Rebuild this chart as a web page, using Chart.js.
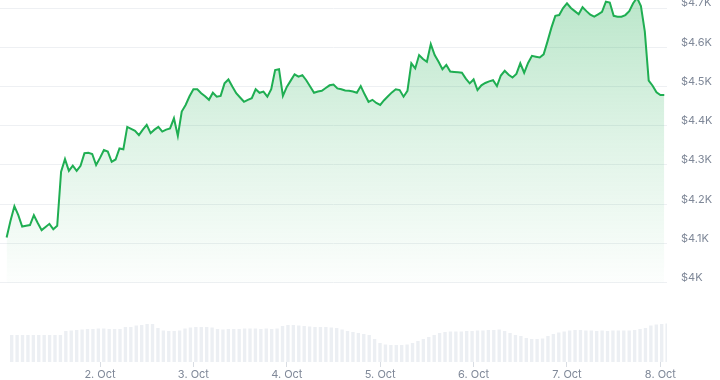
<!doctype html>
<html lang="en">
<head>
  <meta charset="utf-8">
  <title>Price chart</title>
  <script src="https://cdn.jsdelivr.net/npm/chart.js@4.4.1/dist/chart.umd.min.js"></script>
  <style>
    body { margin: 0; background: #fff; }
    #wrap { width: 720px; height: 380px; position: relative; }
  </style>
</head>
<body>
  <div id="wrap"><canvas id="myChart"></canvas></div>
  <script>
    // hourly price, starting 1. Oct 00:00
    const prices = [
      4115, 4158, 4195, 4172, 4143, 4145, 4147, 4172, 4152, 4134,
      4142, 4150, 4136, 4145, 4283, 4315, 4285, 4298, 4285, 4298,
      4330, 4331, 4328, 4300, 4318, 4338, 4334, 4308, 4314, 4342,
      4340, 4397, 4392, 4387, 4376, 4390, 4402, 4381, 4390, 4397,
      4385, 4390, 4393, 4419, 4374, 4436, 4453, 4475, 4493, 4493,
      4483, 4475, 4466, 4484, 4474, 4476, 4508, 4518, 4500, 4483,
      4472, 4461, 4466, 4470, 4493, 4484, 4487, 4474, 4493, 4542,
      4544, 4476, 4499, 4515, 4531, 4525, 4529, 4516, 4500, 4484,
      4487, 4489, 4496, 4503, 4505, 4495, 4493, 4490, 4489, 4487,
      4484, 4501, 4480, 4461, 4466, 4458, 4453, 4465, 4475, 4485,
      4493, 4491, 4474, 4489, 4559, 4546, 4580, 4570, 4563, 4608,
      4580, 4563, 4544, 4555, 4538, 4537, 4536, 4535, 4520, 4508,
      4518, 4491, 4503, 4509, 4513, 4516, 4501, 4528, 4540, 4530,
      4523, 4532, 4559, 4535, 4560, 4578, 4576, 4574, 4582, 4615,
      4650, 4680, 4682, 4700, 4712, 4700, 4692, 4684, 4702, 4692,
      4683, 4678, 4684, 4690, 4716, 4714, 4680, 4678, 4678, 4682,
      4692, 4712, 4726, 4705, 4640, 4515, 4502, 4485, 4478, 4478
    ];

    // volume bars (grouped), $M
    const volumes = [
      270, 270, 270, 270, 270, 270, 270, 270, 270, 270,
      310, 315, 320, 325, 330, 330, 335, 335, 330, 330,
      330, 350, 350, 365, 370, 380, 380, 340, 315, 310,
      310, 315, 335, 345, 350, 350, 350, 345, 330, 325,
      330, 330, 330, 335, 335, 335, 330, 335, 330, 335,
      360, 370, 370, 365, 360, 355, 350, 350, 350, 345,
      340, 325, 310, 300, 290, 280, 270, 230, 190, 175,
      170, 170, 170, 175, 190, 210, 230, 250, 270, 290,
      300, 305, 305, 305, 310, 310, 315, 315, 320, 320,
      325, 310, 290, 270, 260, 240, 230, 230, 235, 260,
      280, 295, 305, 315, 320, 320, 315, 315, 310, 315,
      310, 315, 315, 315, 315, 320, 330, 340, 365, 375,
      380, 385
    ];
    const volStart = 1.3;   // hour of first bar
    const volStep = 1.392;  // hours between bars

    const dayLabels = ['2. Oct', '3. Oct', '4. Oct', '5. Oct', '6. Oct', '7. Oct', '8. Oct'];
    const yTicks = [4000, 4100, 4200, 4300, 4400, 4500, 4600, 4700];

    const green = '#1fae52';
    const labelColor = '#7f8898';

    Chart.defaults.font.family = 'Inter, "Open Sans", sans-serif';
    Chart.defaults.font.size = 11;
    Chart.defaults.color = labelColor;

    const ctx = document.getElementById('myChart').getContext('2d');
    const chart = new Chart(ctx, {
      data: {
        datasets: [{
          type: 'line',
          data: prices.map((p, i) => ({ x: i, y: p })),
          borderColor: green,
          borderWidth: 2,
          pointRadius: 0,
          tension: 0,
          fill: { value: 4000 },
          backgroundColor: function (c) {
            const area = c.chart.chartArea;
            if (!area) return 'rgba(31,174,82,0.2)';
            const bottom = c.chart.scales.y.getPixelForValue(4000);
            const g = c.chart.ctx.createLinearGradient(0, area.top, 0, bottom);
            g.addColorStop(0, 'rgba(31,174,82,0.30)');
            g.addColorStop(0.5, 'rgba(31,174,82,0.14)');
            g.addColorStop(1, 'rgba(31,174,82,0.01)');
            return g;
          },
          xAxisID: 'x',
          yAxisID: 'y',
          order: 1
        }, {
          type: 'bar',
          data: volumes.map((v, i) => ({ x: volStart + i * volStep, y: v })),
          backgroundColor: '#eceff3',
          barPercentage: 0.62,
          categoryPercentage: 1,
          xAxisID: 'x',
          yAxisID: 'yv',
          order: 2
        }]
      },
      options: {
        responsive: true,
        maintainAspectRatio: false,
        animation: false,
        layout: { padding: 0 },
        plugins: {
          legend: { display: false },
          tooltip: { enabled: false }
        },
        scales: {
          x: {
            type: 'linear',
            offset: false,
            min: -1.7,
            max: 169.7,
            afterBuildTicks: s => { s.ticks = dayLabels.map((l, i) => ({ value: 24 * (i + 1) })); },
            afterFit: s => { s.height = 18; s.paddingLeft = 0; s.paddingRight = 0; },
            grid: { offset: false, drawOnChartArea: false, drawTicks: true, tickLength: 5, color: '#d9dde3' },
            border: { display: false },
            ticks: {
              autoSkip: false,
              maxRotation: 0,
              padding: 1,
              color: labelColor,
              callback: (v, i) => dayLabels[i]
            }
          },
          y: {
            type: 'linear',
            position: 'right',
            min: 3797.9,
            max: 4720.4,
            afterBuildTicks: s => { s.ticks = yTicks.map(v => ({ value: v })); },
            afterFit: s => { s.width = 53; s.paddingTop = 0; s.paddingBottom = 0; },
            grid: { color: '#eef0f3', drawTicks: false },
            border: { display: false },
            ticks: {
              padding: 14,
              labelOffset: -5,
              color: labelColor,
              callback: v => '$' + (v / 1000) + 'K'
            }
          },
          yv: {
            type: 'linear',
            display: false,
            min: 0,
            max: 3620
          }
        }
      }
    });
  </script>
</body>
</html>
